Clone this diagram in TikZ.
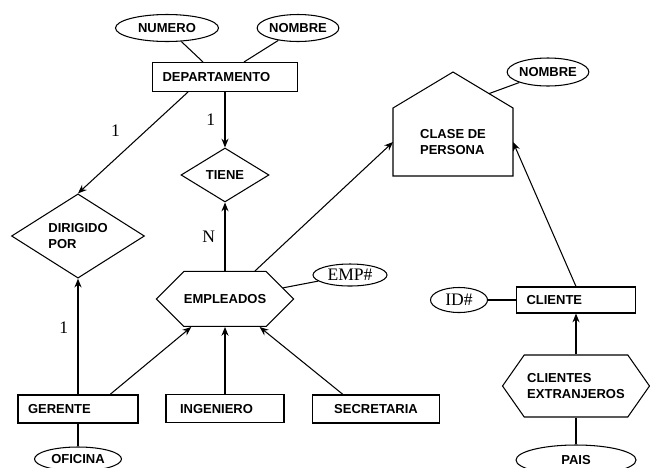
\documentclass[tikz,border=0pt]{standalone}
\usepackage{fontspec}
\setmainfont{Liberation Serif}
\setsansfont{Liberation Sans}
\usepackage{tikz}
\usetikzlibrary{arrows.meta, positioning, shapes.geometric, shapes.symbols, calc}

\begin{document}
\begin{tikzpicture}[x=0.02cm, y=-0.02cm, line width=0.6pt, >={Stealth[length=5pt, width=4pt]},
        entity/.style={draw, rectangle, font=\sffamily\bfseries\fontsize{7.4}{9}\selectfont, inner xsep=0.2cm, align=left, minimum height=0.56cm},
        attrib/.style={draw, ellipse, font=\sffamily\bfseries\fontsize{7.4}{9}\selectfont, inner sep=0pt},
        keyattrib/.style={draw, ellipse, font=\rmfamily\fontsize{10}{12}\selectfont, inner sep=0pt},
        relation/.style={draw, diamond, font=\sffamily\bfseries\fontsize{7.4}{9}\selectfont, inner sep=0pt, align=left},
        subclass/.style={draw, signal, signal to=west and east, font=\sffamily\bfseries\fontsize{7.4}{9}\selectfont, inner sep=0pt, align=left},
        card/.style={font=\rmfamily\fontsize{10}{12}\selectfont}]
        \useasboundingbox (0,0) rectangle (651,467);

        \node[entity, text width=2.5cm, minimum height=0.58cm] (depto) at (225,77) {DEPARTAMENTO};
        \node[relation, minimum width=1.76cm, minimum height=1.08cm] (tiene) [below of=depto, node distance=1.96cm] {TIENE};
        \node[subclass, minimum width=2.66cm, minimum height=1.1cm, signal pointer angle=90] (empleados) [below of=tiene, node distance=2.48cm] {EMPLEADOS};
        \node[entity, text width=1.8cm, inner xsep=0.28cm] (ingeniero) [below of=empleados, node distance=2.2cm] {INGENIERO};
        \node[entity, text width=2.0cm] (gerente) at (78,409) {GERENTE};
        \node[entity, text width=2.14cm, align=center] (secretaria) at (376,409) {SECRETARIA};
        \node[relation, minimum width=2.66cm, minimum height=1.64cm] (dirigido) at (78,236) {DIRIGIDO\\POR};

        \node[outer sep=0pt, minimum width=2.4cm, minimum height=1.36cm, align=left, font=\sffamily\bfseries\fontsize{7.4}{9}\selectfont] (clase) at (453,142) {CLASE DE\\PERSONA};
        \draw (clase.south west) -- (clase.north west) -- ++(60,-36) coordinate (techo) -- (clase.north east) -- (clase.south east) -- cycle;

        \node[entity, text width=1.98cm, minimum height=0.52cm] (cliente) at (576,300) {CLIENTE};
        \node[subclass, minimum width=2.94cm, minimum height=1.24cm, signal pointer angle=110] (extranjeros) [below of=cliente, node distance=1.72cm] {CLIENTES\\EXTRANJEROS};

        \node[attrib, minimum width=2.06cm, minimum height=0.54cm] (numero) at (167,28) {NUMERO};
        \node[attrib, minimum width=1.46cm, minimum height=0.54cm] (nombredep) at (298,28) {NOMBRE};
        \node[attrib, minimum width=1.46cm, minimum height=0.56cm] (nombreclase) at (548,72) {NOMBRE};
        \node[keyattrib, minimum width=1.48cm, minimum height=0.44cm] (emp) at (350,275) {EMP\#};
        \node[keyattrib, minimum width=1.14cm, minimum height=0.5cm] (idnum) at (459,300) {ID\#};
        \node[attrib, minimum width=1.74cm, minimum height=0.48cm] (oficina) [below of=gerente, node distance=1.0cm] {OFICINA};
        \node[attrib, minimum width=2.4cm, minimum height=0.6cm] (pais) at (576,460) {PAIS};

        \path[->] ($(depto.south)+(-37,0)$) edge node[card, pos=0.38, left=0.4cm] (uno1) {1} (dirigido.north)
                  (depto.south) edge node[card, left=2pt] (uno2) {1} (tiene.north)
                  (empleados.north) edge node[card, left=2pt] (ene) {N} (tiene.south)
                  (gerente.north) edge node[card, pos=0.58, left=2pt] (uno3) {1} (dirigido.south)
                  ($(gerente.north)+(32,0)$) edge (empleados)
                  (ingeniero.north) edge (empleados.south)
                  ($(secretaria.north)+(-33,0)$) edge (empleados)
                  (empleados) edge (clase.west)
                  (cliente.north) edge (clase.east)
                  (extranjeros.north) edge (cliente.south);

        \draw (numero) -- ($(depto.north)+(-22,0)$);
        \draw (nombredep) -- ($(depto.north)+(19,0)$);
        \draw (nombreclase) -- ($(techo)!0.6!(clase.north east)$);
        \draw (emp) -- (empleados);
        \draw (idnum) -- (cliente.west);
        \draw (gerente.south) -- (oficina);
        \draw (extranjeros.south) -- (pais);
\end{tikzpicture}
\end{document}
